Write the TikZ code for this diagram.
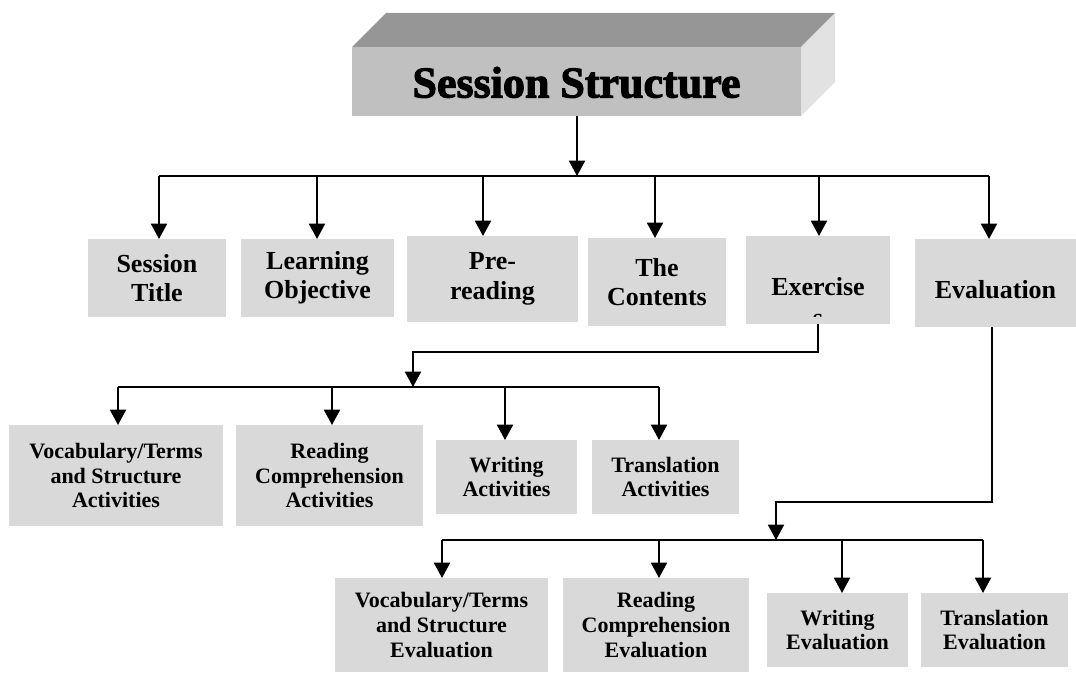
\documentclass[tikz,border=0pt]{standalone}
\usepackage{fontspec}
\setmainfont{Liberation Serif}
\newfontfamily\titlefont[BoldFeatures={FakeBold=2.5}]{Liberation Serif}
\usetikzlibrary{arrows.meta}
\definecolor{boxgray}{RGB}{217,217,217}
\definecolor{frontgray}{RGB}{192,192,192}
\definecolor{topgray}{RGB}{150,150,150}
\definecolor{sidegray}{RGB}{226,226,226}
\newcommand{\fone}{\fontsize{19.5pt}{22pt}\selectfont\bfseries}
\newcommand{\ftwo}{\fontsize{16.5pt}{18.6pt}\selectfont\bfseries}
\tikzset{
  box/.style={fill=boxgray, inner sep=0pt, outer sep=0pt, align=center},
  lone/.style={box, font=\fone},
  ltwo/.style={box, font=\ftwo},
  ln/.style={line width=1.4pt},
  arr/.style={line width=1.4pt, -{Triangle[width=12pt,length=11.5pt]}},
}
\begin{document}
\begin{tikzpicture}[x=0.75pt,y=-0.75pt]
\useasboundingbox (0,0) rectangle (1076,674);

% title block
\node[fill=frontgray, inner sep=0pt, outer sep=0pt, minimum width=336.75pt, minimum height=51.75pt,
      text height=24pt, text depth=0pt,
      font=\titlefont\bfseries\fontsize{33pt}{35pt}\selectfont] (title) at (576.5,81.5) {Session Structure};
\fill[topgray] (title.north west) -- ++(34,-34) -- ([shift={(34,-34)}]title.north east) -- (title.north east) -- cycle;
\fill[sidegray] (title.north east) -- ++(34,-34) -- ++(0,69) -- (title.south east) -- cycle;

% level 1 boxes
\node[lone, minimum width=103.5pt, minimum height=58.5pt] (st) at (157,278) {Session\\Title};
\node[lone, minimum width=114.75pt, minimum height=58.5pt] (lo) at (317.5,278) {Learning\\Objective};
\node[lone, minimum width=128.25pt, minimum height=64.5pt] (pr) at (492.5,279) {Pre-\\reading};
\node[lone, minimum width=103.5pt, minimum height=66pt] (tc) at (657,282) {The\\Contents};
\node[lone, minimum width=108pt, minimum height=66pt, text height=22.6pt, text depth=0pt] (ex) at (818,280) {Exercise};
\node[lone, minimum width=120.75pt, minimum height=66pt, text height=23.4pt, text depth=0pt] (ev) at (995.5,283) {Evaluation};
\begin{scope}
  \clip (ex.north west) rectangle (890,316);
  \node[font=\fone, anchor=base, inner sep=0pt] (exs) at (818,326) {s};
\end{scope}

% level 2 boxes
\node[ltwo, minimum width=160.5pt, minimum height=75.75pt] (va) at (116,475.5) {Vocabulary/Terms\\and Structure\\Activities};
\node[ltwo, minimum width=140.25pt, minimum height=75.75pt] (ra) at (329.5,475.5) {Reading\\Comprehension\\Activities};
\node[ltwo, minimum width=105.75pt, minimum height=55.5pt] (wa) at (506.5,477) {Writing\\Activities};
\node[ltwo, minimum width=110.25pt, minimum height=55.5pt] (ta) at (665.5,477) {Translation\\Activities};

% level 3 boxes
\node[ltwo, minimum width=159.75pt, minimum height=70.5pt] (ve) at (441.5,625) {Vocabulary/Terms\\and Structure\\Evaluation};
\node[ltwo, minimum width=139.5pt, minimum height=70.5pt] (re) at (656,625) {Reading\\Comprehension\\Evaluation};
\node[ltwo, minimum width=105.75pt, minimum height=55.5pt] (we) at (837.5,630) {Writing\\Evaluation};
\node[ltwo, minimum width=110.25pt, minimum height=55.5pt] (te) at (994.5,630) {Translation\\Evaluation};

% level 1 connectors
\coordinate (j1) at (577,176);
\draw[arr] (title.south -| j1) -- (j1);
\coordinate (b1l) at (159,176);
\coordinate (b1r) at (989,176);
\draw[ln] (b1l) -- (b1r);
\coordinate (d1) at (159,176);
\coordinate (d2) at (317,176);
\coordinate (d3) at (483,176);
\coordinate (d4) at (655,176);
\coordinate (d5) at (819,176);
\coordinate (d6) at (989,176);
\draw[arr] (d1) -- (d1 |- st.north);
\draw[arr] (d2) -- (d2 |- lo.north);
\draw[arr] (d3) -- (d3 |- pr.north);
\draw[arr] (d4) -- (d4 |- tc.north);
\draw[arr] (d5) -- (d5 |- ex.north);
\draw[arr] (d6) -- (d6 |- ev.north);

% exercise branch
\coordinate (k2) at (413,352);
\coordinate (j2) at (413,387);
\draw[arr] (ex.south) |- (k2) -- (j2);
\coordinate (b2l) at (118,387);
\coordinate (b2r) at (659,387);
\draw[ln] (b2l) -- (b2r);
\coordinate (e1) at (118,387);
\coordinate (e2) at (332,387);
\coordinate (e3) at (505,387);
\coordinate (e4) at (659,387);
\draw[arr] (e1) -- (e1 |- va.north);
\draw[arr] (e2) -- (e2 |- ra.north);
\draw[arr] (e3) -- (e3 |- wa.north);
\draw[arr] (e4) -- (e4 |- ta.north);

% evaluation branch
\coordinate (evx) at (992,0);
\coordinate (k3) at (776,502);
\coordinate (j3) at (776,540);
\draw[arr] (ev.south -| evx) |- (k3) -- (j3);
\coordinate (b3l) at (442,540);
\coordinate (b3r) at (983,540);
\draw[ln] (b3l) -- (b3r);
\coordinate (f1) at (442,540);
\coordinate (f2) at (659,540);
\coordinate (f3) at (842,540);
\coordinate (f4) at (983,540);
\draw[arr] (f1) -- (f1 |- ve.north);
\draw[arr] (f2) -- (f2 |- re.north);
\draw[arr] (f3) -- (f3 |- we.north);
\draw[arr] (f4) -- (f4 |- te.north);
\end{tikzpicture}
\end{document}
